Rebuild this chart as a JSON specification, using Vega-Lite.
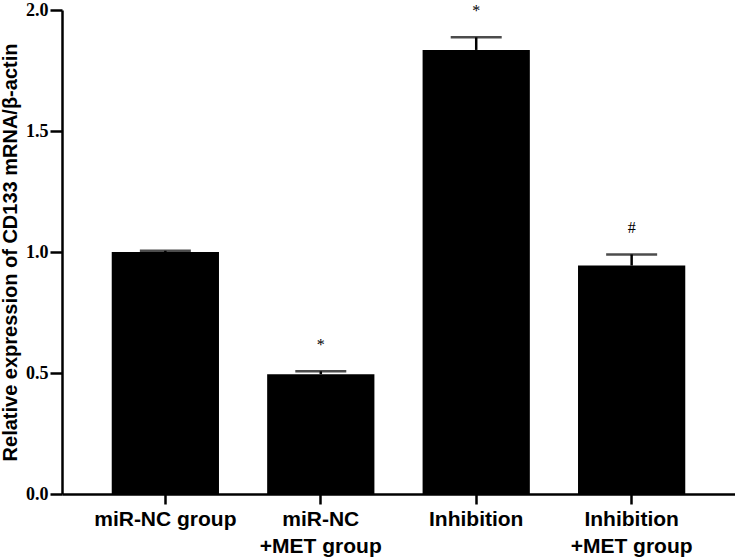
{
  "$schema": "https://vega.github.io/schema/vega-lite/v6.json",
  "width": 673,
  "height": 484,
  "autosize": {"type": "none"},
  "padding": {"left": 62, "top": 10, "right": 0, "bottom": 66},
  "background": "white",
  "config": {"view": {"stroke": null}},
  "data": {
    "values": [
      {"group": "miR-NC group", "mean": 1.0, "upper": 1.005, "sig": ""},
      {"group": "miR-NC\n+MET group", "mean": 0.495, "upper": 0.507, "sig": "*"},
      {"group": "Inhibition", "mean": 1.835, "upper": 1.887, "sig": "*"},
      {"group": "Inhibition\n+MET group", "mean": 0.944, "upper": 0.99, "sig": "#"}
    ]
  },
  "encoding": {
    "x": {
      "field": "group",
      "type": "nominal",
      "sort": null,
      "scale": {"paddingInner": 0.31, "paddingOuter": 0.32},
      "axis": {
        "title": null,
        "labelAngle": 0,
        "labelExpr": "split(datum.label, '\\n')",
        "labelFont": "Liberation Sans",
        "labelFontWeight": "bold",
        "labelFontSize": 21,
        "labelColor": "black",
        "labelLineHeight": 27,
        "labelPadding": 4,
        "tickSize": 10,
        "tickWidth": 2.5,
        "tickColor": "black",
        "domainColor": "black",
        "domainWidth": 2.5
      }
    }
  },
  "layer": [
    {
      "mark": {"type": "bar", "color": "black"},
      "encoding": {
        "y": {
          "field": "mean",
          "type": "quantitative",
          "scale": {"domain": [0, 2]},
          "axis": {
            "title": "Relative expression of CD133 mRNA/β-actin",
            "titleFont": "Liberation Sans",
            "titleFontWeight": "bold",
            "titleFontSize": 20,
            "titleColor": "black",
            "titlePadding": 5,
            "values": [0, 0.5, 1, 1.5, 2],
            "format": ".1f",
            "grid": false,
            "labelFont": "Liberation Serif",
            "labelFontWeight": "bold",
            "labelFontSize": 18,
            "labelColor": "black",
            "labelPadding": 2,
            "tickSize": 12,
            "tickWidth": 2.5,
            "tickColor": "black",
            "domainColor": "black",
            "domainWidth": 2.5
          }
        }
      }
    },
    {
      "mark": {"type": "rule", "color": "black", "strokeWidth": 2.5},
      "encoding": {
        "y": {"field": "mean", "type": "quantitative"},
        "y2": {"field": "upper"}
      }
    },
    {
      "mark": {"type": "tick", "color": "black", "thickness": 2.5, "size": 51},
      "encoding": {
        "y": {"field": "upper", "type": "quantitative"}
      }
    },
    {
      "mark": {"type": "text", "color": "black", "dy": -26, "baseline": "middle", "font": "Liberation Serif", "fontSize": 16},
      "encoding": {
        "y": {"field": "upper", "type": "quantitative"},
        "text": {"field": "sig"}
      }
    }
  ]
}
